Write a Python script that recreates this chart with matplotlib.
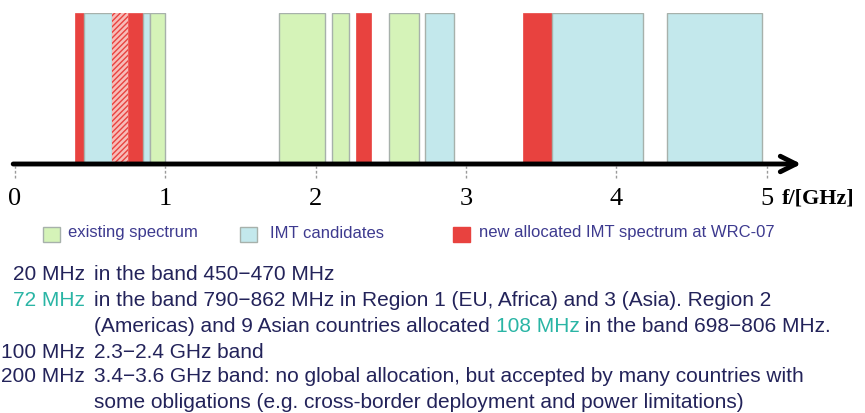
import matplotlib
matplotlib.use("Agg")
import matplotlib.pyplot as plt
from matplotlib.patches import Rectangle

# spectrum bands in GHz (start, end) and kind
band_start = [0.40, 0.46, 0.645, 0.755, 0.855, 0.90, 1.76, 2.11, 2.27, 2.49, 2.73, 3.38, 3.575, 4.34]
band_end   = [0.46, 0.645, 0.755, 0.855, 0.90, 1.00, 2.06, 2.22, 2.37, 2.69, 2.92, 3.575, 4.18, 4.97]
band_kind  = ["new", "imt", "hatch", "new", "imt", "exist", "exist", "exist", "new", "exist", "imt", "new", "imt", "imt"]

tick_vals = [0, 1, 2, 3, 4, 5]
legend_labels = ["existing spectrum", "IMT candidates", "new allocated IMT spectrum at WRC-07"]

notes_amount = ["20 MHz", "72 MHz", "", "100 MHz", "200 MHz", ""]
notes_text = [
    "in the band 450\u2212470 MHz",
    "in the band 790\u2212862 MHz in Region 1 (EU, Africa) and 3 (Asia). Region 2",
    None,  # coloured line, built from split_line
    "2.3\u22122.4 GHz band",
    "3.4\u22123.6 GHz band: no global allocation, but accepted by many countries with",
    "some obligations (e.g. cross-border deployment and power limitations)",
]
split_line = ["(Americas) and 9 Asian countries allocated ", "108 MHz", " in the band 698\u2212806 MHz."]

GREEN  = "#d5f3b8"
BLUE   = "#c3e8ec"
RED    = "#e8423f"
PINK   = "#f7bcb8"
EDGE   = "#a7b1ab"
NAVY   = "#23235a"
LEGTXT = "#3d3a8f"
TEAL   = "#2ab5a5"
SANS   = "Liberation Sans"
SERIF  = "Liberation Serif"

W, H = 865, 413
fig = plt.figure(figsize=(W / 100, H / 100), dpi=100)


def fx(px):
    return px / W


def fy(py):
    return 1 - py / H


# spectrum axes: x in GHz, bars fill 0..1 in y
ax = fig.add_axes([0, fy(164), 1, fy(13) - fy(164)])
ax.set_xlim(-14.7 / 150.4, (W - 14.7) / 150.4)
ax.set_ylim(0, 1)
for s in ax.spines.values():
    s.set_visible(False)
ax.set_yticks([])

style = {
    "exist": dict(color=GREEN, edgecolor=EDGE, linewidth=1.0),
    "imt":   dict(color=BLUE, edgecolor=EDGE, linewidth=1.0),
    "new":   dict(color=RED, edgecolor=RED, linewidth=0.5),
    "hatch": dict(color=PINK, edgecolor=RED, linewidth=0, hatch="//////"),
}
for s0, s1, k in zip(band_start, band_end, band_kind):
    ax.bar(s0, 1, width=s1 - s0, align="edge", zorder=2, **style[k])

# frequency axis with arrow
ax.annotate("", xy=(5.23, 0), xytext=(-0.01, 0), xycoords="data",
            arrowprops=dict(arrowstyle="->", lw=3.5, color="black",
                            mutation_scale=28, shrinkA=0, shrinkB=0),
            annotation_clip=False, zorder=5)
ax.vlines(tick_vals, -0.09, -0.015, colors="#9a9a9a", linestyles=(0, (2, 1.5)),
          lw=1.0, clip_on=False)
ax.set_xticks(tick_vals)
ax.set_xticklabels([str(v) for v in tick_vals], fontfamily=SERIF, fontsize=19)
ax.tick_params(axis="x", length=0, pad=17)
fig.text(fx(782), fy(198), "f/[GHz]", fontfamily=SERIF, fontsize=16,
         fontweight="bold", ha="left", va="center")

# legend row
leg_sq = [43, 240, 453]
leg_tx = [68, 270, 479]
leg_col = [GREEN, BLUE, RED]
leg_edge = [EDGE, EDGE, RED]
for sx, tx, lab, c, e in zip(leg_sq, leg_tx, legend_labels, leg_col, leg_edge):
    fig.patches.append(Rectangle((fx(sx), fy(242)), fx(17), fy(227) - fy(242),
                                 transform=fig.transFigure, fc=c, ec=e, lw=1))
    fig.text(fx(tx), fy(233), lab, color=LEGTXT, fontsize=12,
             fontfamily=SANS, ha="left", va="center")

# notes block
line_y = [274, 300, 326, 352, 377, 402]
amount_col = [NAVY, TEAL, NAVY, NAVY, NAVY, NAVY]
fs = 15
AMT_X, TXT_X = 85, 94
for yy, amt, txt, c in zip(line_y, notes_amount, notes_text, amount_col):
    if amt:
        fig.text(fx(AMT_X), fy(yy), amt, color=c, fontsize=fs, fontfamily=SANS,
                 ha="right", va="center")
    if txt is not None:
        fig.text(fx(TXT_X), fy(yy), txt, color=NAVY, fontsize=fs, fontfamily=SANS,
                 ha="left", va="center")

# line with the teal "108 MHz" in the middle: chain pieces off the previous one
prev = fig.text(fx(TXT_X), fy(line_y[2]), split_line[0], color=NAVY, fontsize=fs,
                fontfamily=SANS, ha="left", va="center")
for piece, c in zip(split_line[1:], [TEAL, NAVY]):
    prev = ax.annotate(piece, xy=(1, 0.5), xycoords=prev, color=c, fontsize=fs,
                       fontfamily=SANS, ha="left", va="center", annotation_clip=False)

fig.savefig("out.png", facecolor="white")
